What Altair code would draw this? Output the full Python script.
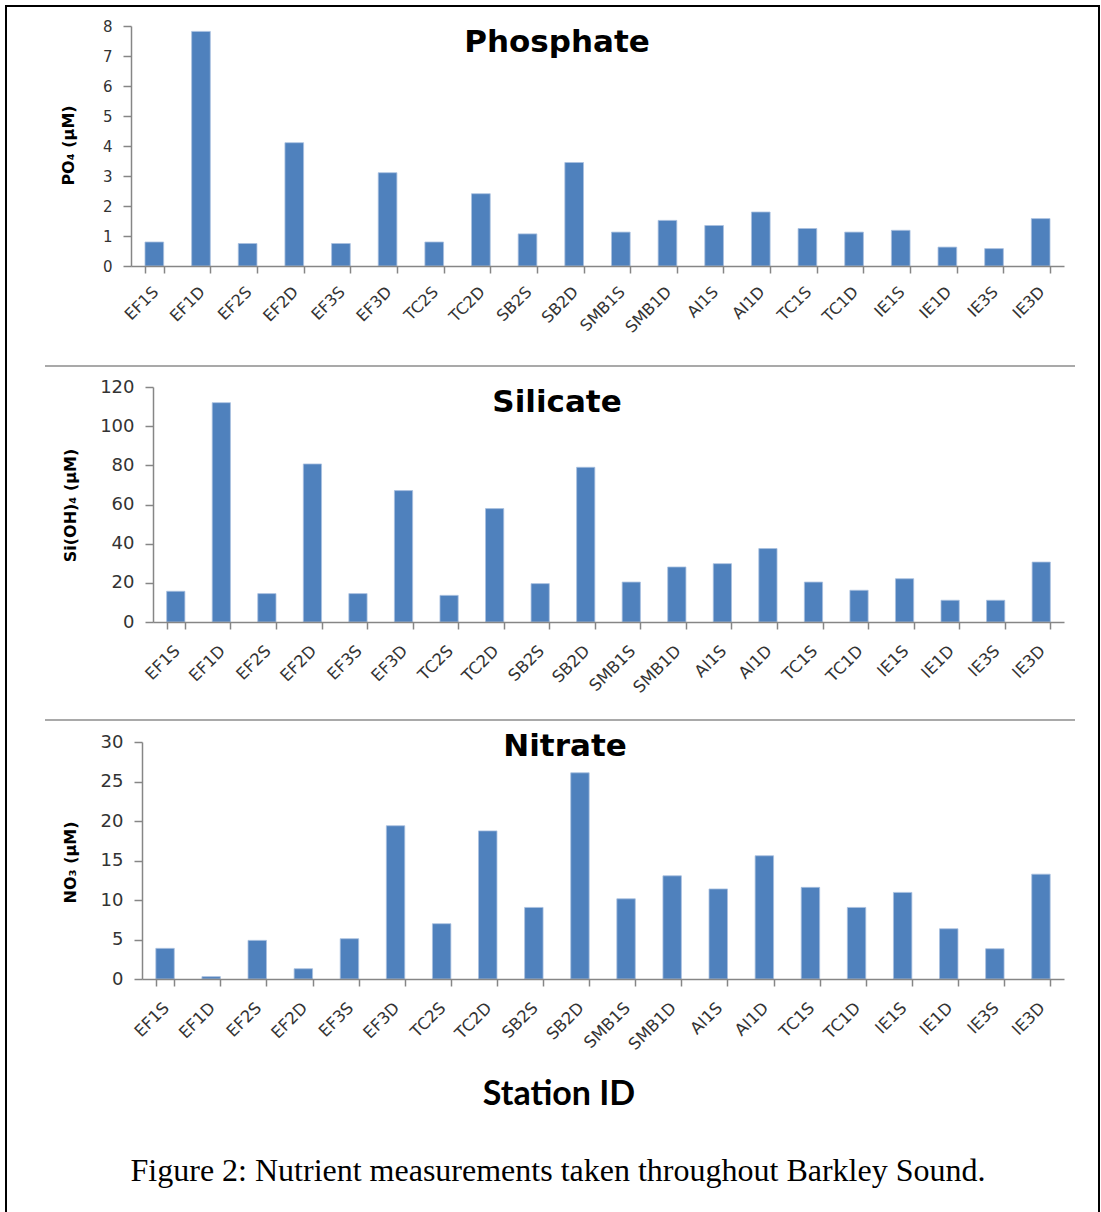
import altair as alt
import pandas as pd

# ---------------- data ----------------
stations = ["EF1S", "EF1D", "EF2S", "EF2D", "EF3S", "EF3D", "TC2S", "TC2D", "SB2S", "SB2D",
            "SMB1S", "SMB1D", "AI1S", "AI1D", "TC1S", "TC1D", "IE1S", "IE1D", "IE3S", "IE3D"]
phosphate = [0.80, 7.82, 0.75, 4.11, 0.75, 3.11, 0.80, 2.41, 1.07, 3.45,
             1.13, 1.52, 1.35, 1.80, 1.25, 1.13, 1.19, 0.63, 0.58, 1.58]
silicate = [15.7, 112.0, 14.5, 80.7, 14.5, 67.1, 13.6, 57.9, 19.6, 79.0,
            20.4, 28.1, 29.8, 37.5, 20.4, 16.2, 22.1, 11.1, 11.1, 30.6]
nitrate = [3.88, 0.30, 4.89, 1.30, 5.10, 19.4, 7.00, 18.75, 9.06, 26.1,
           10.15, 13.06, 11.4, 15.6, 11.6, 9.06, 10.96, 6.36, 3.83, 13.27]

panel_titles = ["Phosphate", "Silicate", "Nitrate"]
y_titles = ["PO₄ (µM)", "Si(OH)₄ (µM)", "NO₃ (µM)"]
y_ticks = [[0, 1, 2, 3, 4, 5, 6, 7, 8],
           [0, 20, 40, 60, 80, 100, 120],
           [0, 5, 10, 15, 20, 25, 30]]
x_title = "Station ID"
caption = "Figure 2: Nutrient measurements taken throughout Barkley Sound."

df = pd.DataFrame({"station": stations, "po4": phosphate, "si": silicate, "no3": nitrate})
fields = ["po4", "si", "no3"]

# ---------------- layout (pixels) ----------------
W, H = 1101, 1212
FONT = "DejaVu Sans"
TXT = "#333333"
AXC = "#868686"
layout = [
    dict(x0=131, x1=1064, y0=266, y1=26, lab=15, xlab=16, pad=16, tx=557, ty=43, ytx=68, yty=145),
    dict(x0=153, x1=1064, y0=622, y1=387, lab=18, xlab=16.5, pad=19, tx=557, ty=403, ytx=70, yty=505),
    dict(x0=142, x1=1064, y0=979, y1=742, lab=18, xlab=16.5, pad=19, tx=565, ty=747, ytx=70, yty=862),
]

layers = []

# outer frame
layers.append(
    alt.Chart(pd.DataFrame({"k": [0]})).mark_rect(filled=False, stroke="black", strokeWidth=2).encode(
        x=alt.value(6), x2=alt.value(1099), y=alt.value(6), y2=alt.value(1300)
    )
)

for i, p in enumerate(layout):
    ymax = y_ticks[i][-1]
    bars = alt.Chart(df).mark_bar(color="#4F81BD", stroke="#A9C0DF", strokeWidth=0.8).encode(
        x=alt.X(
            "station:N", sort=stations, title=None,
            scale=alt.Scale(range=[p["x0"], p["x1"]], paddingInner=0.6, paddingOuter=0.3),
            axis=alt.Axis(
                orient="bottom", offset=p["y0"] - H, labelAngle=-45, labelAlign="right",
                labelBaseline="middle", labelPadding=p["pad"], labelOffset=1, labelOverlap=False,
                labelFont=FONT, labelFontSize=p["xlab"], labelColor=TXT,
                tickBand="extent", tickSize=7, tickColor=AXC, domainColor=AXC,
                domainWidth=1.5, tickWidth=1.5, grid=False, zindex=1,
            ),
        ),
        y=alt.Y(
            f"{fields[i]}:Q", title=y_titles[i],
            scale=alt.Scale(domain=[0, ymax], range=[p["y0"], p["y1"]], nice=False, zero=True),
            axis=alt.Axis(
                orient="left", offset=-p["x0"], values=y_ticks[i], grid=False, zindex=1,
                labelFont=FONT, labelFontSize=p["lab"], labelColor=TXT, labelPadding=11,
                labelOverlap=False, labelFlush=False,
                tickSize=8, tickColor=AXC, domainColor=AXC, domainWidth=1.5, tickWidth=1.5,
                titleFont=FONT, titleFontWeight="bold", titleFontSize=16, titleColor="black",
                titleAngle=270, titleAlign="center", titleBaseline="middle",
                titleX=p["ytx"] - p["x0"], titleY=p["yty"],
            ),
        ),
    )
    layers.append(bars)
    layers.append(
        alt.Chart(pd.DataFrame({"t": [panel_titles[i]]})).mark_text(
            font=FONT, fontWeight="bold", fontSize=31, color="black", align="center", baseline="middle"
        ).encode(text="t:N", x=alt.value(p["tx"]), y=alt.value(p["ty"]))
    )

# separators between panels
for yy in [366, 720]:
    layers.append(
        alt.Chart(pd.DataFrame({"k": [0]})).mark_rule(color="#8c8c8c", strokeWidth=1.5).encode(
            x=alt.value(45), x2=alt.value(1075), y=alt.value(yy)
        )
    )

layers.append(
    alt.Chart(pd.DataFrame({"t": [x_title]})).mark_text(
        font="Lato", fontWeight="bold", fontSize=34, color="black", align="center", baseline="alphabetic"
    ).encode(text="t:N", x=alt.value(559), y=alt.value(1105))
)
layers.append(
    alt.Chart(pd.DataFrame({"t": [caption]})).mark_text(
        font="Liberation Serif", fontSize=32, color="black", align="center", baseline="alphabetic"
    ).encode(text="t:N", x=alt.value(558), y=alt.value(1181))
)

chart = alt.layer(*layers).resolve_scale(
    x="independent", y="independent"
).resolve_axis(
    x="independent", y="independent"
).properties(
    width=W, height=H, padding=0, autosize=alt.AutoSizeParams(type="none"), background="white"
).configure_view(stroke="transparent")

chart.save("out.html", embed_options={"renderer": "svg", "actions": False})
